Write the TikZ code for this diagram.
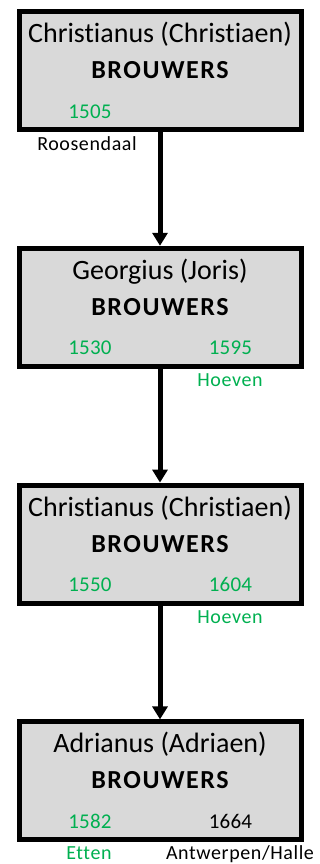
\documentclass[tikz,border=0pt]{standalone}
\usepackage{fontspec}
\setmainfont{Carlito}[Ligatures=NoCommon]
\usepackage{tikz}
\usetikzlibrary{arrows.meta,positioning}

\definecolor{boxgray}{HTML}{D9D9D9}
\definecolor{placegreen}{HTML}{00B050}

\begin{document}
\begin{tikzpicture}[
		person/.style = {draw, line width=5pt, fill=boxgray, rectangle, minimum width=282pt, minimum height=118pt, inner sep=0pt},
		given/.style  = {anchor=base, inner sep=0pt, font=\fontsize{28}{30}\selectfont},
		family/.style = {anchor=base, inner sep=0pt, font=\fontsize{26}{28}\selectfont\bfseries\addfontfeatures{LetterSpace=6}},
		year/.style   = {anchor=base, inner sep=0pt, text=placegreen, font=\fontsize{21}{23}\selectfont\addfontfeatures{LetterSpace=1}},
		place/.style  = {anchor=base, inner sep=0pt, text=placegreen, font=\fontsize{20}{22}\selectfont\addfontfeatures{LetterSpace=3}},
		>={Triangle[width=15pt,length=13pt]}]
		
		\useasboundingbox (0,0) rectangle (320pt,-864pt);
		
		% the four generations, one box each
		\node[person] (p1) at (160pt,-70.5pt) {};
		\node[person] (p2) at (160pt,-307.3pt) {};
		\node[person] (p3) at (160pt,-544.1pt) {};
		\node[person] (p4) at (160pt,-780.9pt) {};
		
		% names inside the boxes
		\node[given] (g1) at ([yshift=-33.5pt]p1.north) {Christianus (Christiaen)};
		\node[given] (g2) at ([yshift=-33.5pt]p2.north) {Georgius (Joris)};
		\node[given] (g3) at ([yshift=-33.5pt]p3.north) {Christianus (Christiaen)};
		\node[given] (g4) at ([yshift=-33.5pt]p4.north) {Adrianus (Adriaen)};
		\foreach \i in {1,...,4}
		\node[family] (f\i) at ([yshift=-69.5pt]p\i.north) {BROUWERS};
		
		% years of birth and death
		\node[year] (b1) at ([xshift=-70pt,yshift=-109pt]p1.north) {1505};
		\node[year] (b2) at ([xshift=-70pt,yshift=-109pt]p2.north) {1530};
		\node[year] (d2) at ([xshift=70.5pt,yshift=-109pt]p2.north) {1595};
		\node[year] (b3) at ([xshift=-70pt,yshift=-109pt]p3.north) {1550};
		\node[year] (d3) at ([xshift=70.5pt,yshift=-109pt]p3.north) {1604};
		\node[year] (b4) at ([xshift=-70pt,yshift=-109pt]p4.north) {1582};
		\node[year, text=black] (d4) at ([xshift=70.5pt,yshift=-109pt]p4.north) {1664};
		
		% places below the boxes
		\node[place, text=black] (l1) at ([xshift=-73pt,yshift=-141pt]p1.north) {Roosendaal};
		\node[place] (l2) at ([xshift=70pt,yshift=-141pt]p2.north) {Hoeven};
		\node[place] (l3) at ([xshift=70pt,yshift=-141pt]p3.north) {Hoeven};
		\node[place] (l4) at ([xshift=-71pt,yshift=-140pt]p4.north) {Etten};
		\node[place, text=black] (m4) at ([xshift=80pt,yshift=-140pt]p4.north) {Antwerpen/Halle};
		
		% lines from each parent to the child
		\foreach \i/\j in {1/2,2/3,3/4}
		\draw[->, line width=5pt] (p\i.south) -- (p\j.north);
		
\end{tikzpicture}
\end{document}
